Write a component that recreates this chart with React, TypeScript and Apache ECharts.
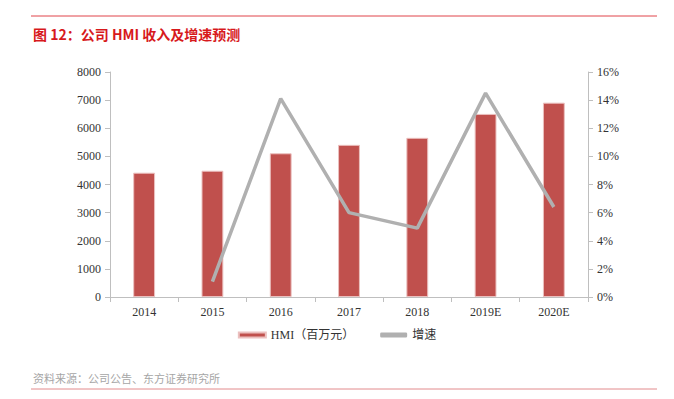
import React, { useEffect, useRef } from "react";
import * as echarts from "echarts";

const categories = ["2014", "2015", "2016", "2017", "2018", "2019E", "2020E"];
const revenue = [4420, 4490, 5110, 5410, 5660, 6510, 6910];
const growth = [null, 1.1, 14.1, 6.0, 4.9, 14.5, 6.4];
const leftTicks = { min: 0, max: 8000, interval: 1000 };
const rightTicks = { min: 0, max: 16, interval: 2 };

const SERIF = "'Liberation Serif', 'Noto Sans CJK SC', serif";

export default function App() {
  const ref = useRef<HTMLDivElement>(null);
  useEffect(() => {
    if (!ref.current) return;
    const chart = echarts.init(ref.current, undefined, { renderer: "svg" });
    chart.setOption({
      animation: false,
      backgroundColor: "#ffffff",
      title: {
        text: "图 12：公司 HMI 收入及增速预测",
        left: 28,
        top: 22,
        textStyle: {
          color: "#D7191C",
          fontSize: 14,
          fontWeight: "bold",
          fontFamily: "'Noto Sans CJK SC', sans-serif",
        },
      },
      graphic: [
        { type: "line", shape: { x1: 31, y1: 16, x2: 657, y2: 16 }, style: { stroke: "#E0454A", lineWidth: 1 } },
        { type: "line", shape: { x1: 31, y1: 389, x2: 657, y2: 389 }, style: { stroke: "#E28A8C", lineWidth: 1 } },
        {
          type: "text",
          x: 33,
          y: 372,
          style: {
            text: "资料来源：公司公告、东方证券研究所",
            fill: "#A6A6A6",
            fontSize: 11,
            fontFamily: "'Noto Sans CJK SC', sans-serif",
          },
        },
      ],
      legend: {
        bottom: 53,
        left: "center",
        itemWidth: 27,
        itemHeight: 5,
        itemGap: 26,
        textStyle: { fontSize: 12, color: "#333", fontFamily: SERIF },
        data: [
          { name: "HMI（百万元）", icon: "rect" },
          { name: "增速", icon: "roundRect", itemStyle: { color: "#B0B0B0" } },
        ],
      },
      grid: { left: 110, right: 86, top: 72, bottom: 102 },
      xAxis: {
        type: "category",
        data: categories,
        axisLine: { lineStyle: { color: "#BFBFBF", width: 1 } },
        axisTick: { show: true, alignWithLabel: false, length: 5, lineStyle: { color: "#BFBFBF" } },
        axisLabel: { color: "#333", fontSize: 12, fontFamily: SERIF, margin: 9 },
      },
      yAxis: [
        {
          type: "value",
          ...leftTicks,
          position: "left",
          splitLine: { show: false },
          axisLine: { show: true, lineStyle: { color: "#BFBFBF" } },
          axisTick: { show: true, length: 5, lineStyle: { color: "#BFBFBF" } },
          axisLabel: { color: "#333", fontSize: 12, fontFamily: SERIF, margin: 9, formatter: (v: number) => String(v) },
        },
        {
          type: "value",
          ...rightTicks,
          position: "right",
          splitLine: { show: false },
          axisLine: { show: true, lineStyle: { color: "#BFBFBF" } },
          axisTick: { show: true, length: 5, lineStyle: { color: "#BFBFBF" } },
          axisLabel: { color: "#333", fontSize: 12, fontFamily: SERIF, margin: 9, formatter: "{value}%" },
        },
      ],
      series: [
        {
          name: "HMI（百万元）",
          type: "bar",
          data: revenue,
          barWidth: "32%",
          itemStyle: { color: "#C0504D", borderColor: "#EBC0BF", borderWidth: 1 },
        },
        {
          name: "增速",
          type: "line",
          yAxisIndex: 1,
          data: growth,
          symbol: "none",
          connectNulls: false,
          lineStyle: { color: "#B0B0B0", width: 3.5 },
          itemStyle: { color: "#B0B0B0" },
        },
      ],
    });
    return () => chart.dispose();
  }, []);
  return <div ref={ref} style={{ width: 674, height: 399, position: "absolute", left: 0, top: 0 }} />;
}
